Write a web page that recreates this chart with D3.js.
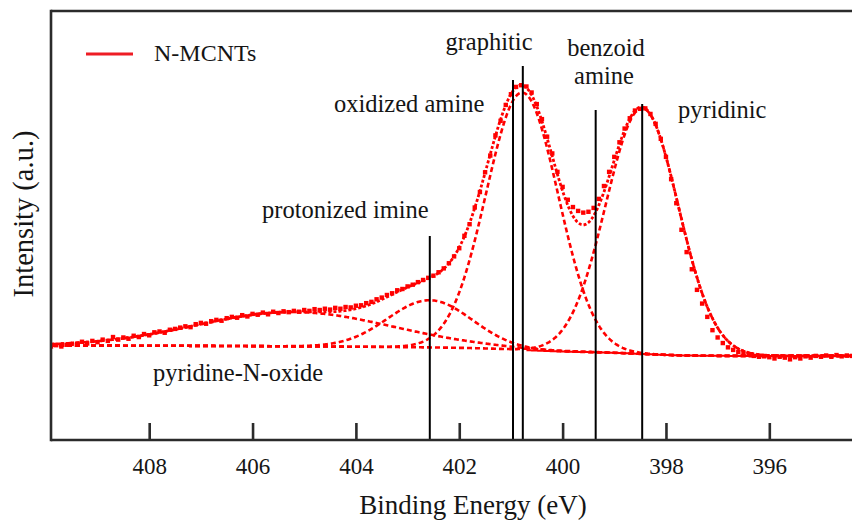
<!DOCTYPE html>
<html>
<head>
<meta charset="utf-8">
<script src="https://cdn.jsdelivr.net/npm/d3@7"></script>
<style>
  html, body { margin: 0; padding: 0; background: #fff; }
  svg { display: block; }
</style>
</head>
<body>
<svg id="chart" width="852" height="520"></svg>
<script>
// N 1s XPS spectrum of N-MCNTs with peak deconvolution

// Measured spectrum: binding energy grid (eV) and counts (a.u.)
const energyStart = 409.9;
const energyStep = 0.1;
const intensity = [
  218, 221, 218, 222, 224, 222, 229, 225, 231, 228,
  234, 231, 240, 234, 239, 236, 243, 240, 247, 244,
  251, 253, 250, 257, 259, 262, 265, 263, 270, 273,
  271, 277, 280, 278, 284, 287, 285, 291, 288, 294,
  292, 297, 293, 299, 296, 300, 298, 301, 299, 303,
  301, 305, 303, 306, 304, 308, 306, 310, 309, 313,
  314, 319, 322, 328, 332, 338, 342, 349, 352, 358,
  362, 368, 373, 378, 383, 391, 400, 412, 428, 447,
  476, 503, 542, 578, 624, 663, 710, 744, 781, 806,
  823, 827, 824, 810, 783, 748, 707, 668, 625, 590,
  560, 543, 534, 530, 532, 541, 562, 592, 625, 660,
  694, 726, 750, 768, 772, 773, 760, 737, 702, 660,
  608, 552, 490, 438, 398, 350, 318, 287, 256, 239,
  226, 216, 210, 205, 201, 199, 196, 194, 195, 193,
  190, 194, 192, 188, 193, 190, 195, 192, 196, 194,
  197, 194, 198, 195, 197, 196
];

// Fitted Gaussian components
const peakNames   = ["pyridine-N-oxide", "protonized imine", "graphitic", "pyridinic"];
const peakCenters = [405.2, 402.57, 400.78, 398.46];
const peakHeights = [80, 110, 600, 573];
const peakFWHM    = [4.43, 1.91, 1.64, 1.65];

// Shirley background end levels (high-BE side, low-BE side)
const bgHigh = 220;
const bgLow = 196;

// Assigned binding energies marked with vertical lines
const markerNames    = ["protonized imine", "oxidized amine", "graphitic", "benzoid amine", "pyridinic"];
const markerEnergies = [402.57, 400.96, 400.77, 399.36, 398.46];

const xTicks = [408, 406, 404, 402, 400, 398, 396];

// ---------------------------------------------------------------------------
const W = 852, H = 520;
const plot = { left: 51, top: 11, bottom: 440, right: 852 };
const RED = "#ff0000";
const INK = "#151515";
const SERIF = "'Liberation Serif', 'Times New Roman', serif";

const svg = d3.select("#chart");

const x = d3.scaleLinear().domain([409.9, 394.4]).range([plot.left, plot.right]);
const y = d3.scaleLinear().domain([0, 1000]).range([plot.bottom, plot.top]);

const energies = intensity.map((_, i) => +(energyStart - i * energyStep).toFixed(2));
const spectrum = energies.map((e, i) => ({ e, v: intensity[i] }));

// error function (Abramowitz-Stegun 7.1.26) for the Gaussian CDF
function erf(z) {
  const s = z < 0 ? -1 : 1;
  z = Math.abs(z);
  const t = 1 / (1 + 0.3275911 * z);
  const p = t * (0.254829592 + t * (-0.284496736 + t * (1.421413741 + t * (-1.453152027 + t * 1.061405429))));
  return s * (1 - p * Math.exp(-z * z));
}
const sigmas = peakFWHM.map(f => f / (2 * Math.sqrt(2 * Math.log(2))));
const areas = peakHeights.map((h, k) => h * sigmas[k] * Math.sqrt(2 * Math.PI));
const totalArea = d3.sum(areas);

function gauss(k, e) {
  const d = e - peakCenters[k];
  return peakHeights[k] * Math.exp(-d * d / (2 * sigmas[k] * sigmas[k]));
}
function background(e) {
  let below = 0;
  for (let k = 0; k < peakCenters.length; k++) {
    below += areas[k] * 0.5 * (1 + erf((e - peakCenters[k]) / (sigmas[k] * Math.SQRT2)));
  }
  return bgLow + (bgHigh - bgLow) * below / totalArea;
}

const fine = d3.range(409.9, 394.39, -0.02);

svg.append("defs").append("clipPath").attr("id", "plotClip")
  .append("rect")
  .attr("x", plot.left).attr("y", plot.top)
  .attr("width", plot.right - plot.left + 20).attr("height", plot.bottom - plot.top);

const g = svg.append("g").attr("clip-path", "url(#plotClip)");

const line = d3.line().x(d => x(d[0])).y(d => y(d[1]));

// component curves riding on the background
peakCenters.forEach((c, k) => {
  g.append("path")
    .datum(fine.map(e => [e, background(e) + gauss(k, e)]))
    .attr("fill", "none")
    .attr("stroke", RED)
    .attr("stroke-width", 2.6)
    .attr("stroke-dasharray", "5,3")
    .attr("d", line);
});

// envelope of the fit
g.append("path")
  .datum(fine.map(e => [e, background(e) + d3.sum(peakCenters, (c, k) => gauss(k, e))]))
  .attr("fill", "none")
  .attr("stroke", RED)
  .attr("stroke-width", 2.8)
  .attr("stroke-dasharray", "3,2")
  .attr("d", line);

// Shirley background
g.append("path")
  .datum(fine.filter(e => e <= 400.7).map(e => [e, background(e)]))
  .attr("fill", "none")
  .attr("stroke", RED)
  .attr("stroke-width", 2)
  .attr("d", line);

// measured points
g.selectAll("rect.pt")
  .data(spectrum)
  .join("rect")
  .attr("class", "pt")
  .attr("x", d => x(d.e) - 2.2)
  .attr("y", d => y(d.v) - 2.2)
  .attr("width", 4.4)
  .attr("height", 4.4)
  .attr("fill", RED);

// vertical assignment lines (top ends in px)
const markerTopY = [236, 80, 66, 110, 104];
svg.append("g")
  .selectAll("line")
  .data(markerEnergies)
  .join("line")
  .attr("x1", d => x(d)).attr("x2", d => x(d))
  .attr("y1", (d, i) => markerTopY[i])
  .attr("y2", plot.bottom)
  .attr("stroke", "#000")
  .attr("stroke-width", 2);

// frame and axes
const frame = svg.append("g").attr("stroke", "#2b2b2b").attr("stroke-width", 2.6).attr("fill", "none");
frame.append("line").attr("x1", plot.left).attr("x2", W + 5).attr("y1", plot.top).attr("y2", plot.top);
frame.append("line").attr("x1", plot.left).attr("x2", plot.left).attr("y1", plot.top - 1.3).attr("y2", plot.bottom + 1.3);

const xAxis = d3.axisBottom(x).tickValues(xTicks).tickSize(-17).tickPadding(0).tickFormat(d3.format("d"));
const ax = svg.append("g").attr("transform", `translate(0,${plot.bottom})`).call(xAxis);
ax.attr("font-family", null).attr("font-size", null);
ax.select(".domain").attr("d", `M${plot.left},0H${W + 5}`).attr("stroke", "#2b2b2b").attr("stroke-width", 2.6);
ax.selectAll(".tick line").attr("stroke", "#2b2b2b").attr("stroke-width", 2.6);
ax.selectAll(".tick text")
  .attr("y", 34)
  .attr("dy", null)
  .attr("fill", INK)
  .style("font-family", SERIF)
  .style("font-size", "23px");

// axis titles
svg.append("text")
  .attr("x", 473).attr("y", 514)
  .attr("text-anchor", "middle")
  .attr("fill", INK)
  .style("font-family", SERIF)
  .style("font-size", "27px")
  .text("Binding Energy (eV)");

svg.append("text")
  .attr("transform", "translate(33,214) rotate(-90)")
  .attr("text-anchor", "middle")
  .attr("fill", INK)
  .style("font-family", SERIF)
  .style("font-size", "28.5px")
  .text("Intensity (a.u.)");

// legend
svg.append("line")
  .attr("x1", 86).attr("x2", 133).attr("y1", 54).attr("y2", 54)
  .attr("stroke", "#ee1c24").attr("stroke-width", 3);
svg.append("text")
  .attr("x", 154).attr("y", 61)
  .attr("fill", INK)
  .style("font-family", SERIF)
  .style("font-size", "24px")
  .text("N-MCNTs");

// peak annotations
const annotations = [
  { t: "graphitic",         x: 489, y: 50,  a: "middle" },
  { t: "benzoid",           x: 606, y: 56,  a: "middle" },
  { t: "amine",             x: 604, y: 84,  a: "middle" },
  { t: "oxidized amine",    x: 334, y: 112, a: "start" },
  { t: "pyridinic",         x: 678, y: 118, a: "start" },
  { t: "protonized imine",  x: 262, y: 218, a: "start" },
  { t: "pyridine-N-oxide",  x: 153, y: 381, a: "start" }
];
svg.append("g")
  .selectAll("text")
  .data(annotations)
  .join("text")
  .attr("x", d => d.x).attr("y", d => d.y)
  .attr("text-anchor", d => d.a)
  .attr("fill", INK)
  .style("font-family", SERIF)
  .style("font-size", "24.5px")
  .text(d => d.t);
</script>
</body>
</html>
